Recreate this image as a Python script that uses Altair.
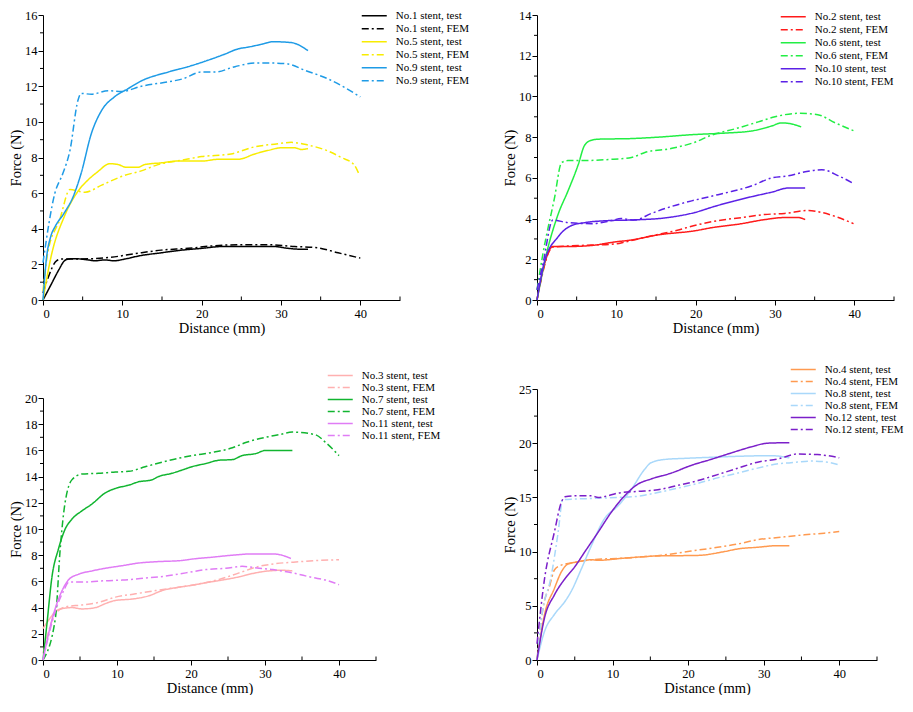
import altair as alt
import pandas as pd

FONT = "Liberation Serif"

# ---------------- Panel 1 ----------------
p1_names = ["No.1 stent, test", "No.1 stent, FEM", "No.5 stent, test",
            "No.5 stent, FEM", "No.9 stent, test", "No.9 stent, FEM"]
p1_colors = ["#000000", "#000000", "#F8EC00", "#F8EC00", "#1E9BE6", "#1E9BE6"]

no1_test_x = [0, 1.0, 2.0, 2.7, 3.2, 4.0, 5.7, 6.5, 7.8, 9.0, 10.3, 12.4, 14.9, 17.5, 20, 22.5, 25, 29.2, 30.9, 32.6, 33.4]
no1_test_y = [0, 0.85, 1.7, 2.2, 2.3, 2.32, 2.25, 2.2, 2.25, 2.2, 2.3, 2.5, 2.65, 2.8, 2.9, 3.0, 3.0, 3.0, 2.9, 2.85, 2.85]
no1_fem_x = [0, 0.6, 1.7, 2.3, 4.4, 8.6, 11.6, 14.9, 18.3, 21.7, 25, 28.4, 31.7, 34.3, 37.2, 40]
no1_fem_y = [0.4, 1.2, 2.2, 2.3, 2.3, 2.4, 2.6, 2.8, 2.9, 3.05, 3.1, 3.1, 3.0, 2.95, 2.65, 2.35]
no5_test_x = [0, 1.05, 2.7, 4.4, 5.7, 6.9, 8.4, 9.5, 10.5, 12.0, 12.8, 14.9, 17.0, 20.0, 22.1, 24.6, 26.7, 28.4, 30.1, 31.7, 32.6, 33.4]
no5_test_y = [0, 2.5, 4.7, 6.1, 6.75, 7.2, 7.65, 7.6, 7.45, 7.45, 7.6, 7.7, 7.8, 7.8, 7.9, 7.9, 8.2, 8.4, 8.55, 8.55, 8.45, 8.5]
no5_fem_x = [0, 0.6, 2.1, 3.4, 5.3, 7.4, 10.3, 12.4, 14.5, 17.5, 20, 23.7, 26.7, 29.2, 31.3, 33.4, 36, 37.6, 39.2, 39.8]
no5_fem_y = [0.5, 2.65, 4.5, 6.2, 6.05, 6.45, 7.0, 7.25, 7.6, 7.85, 8.05, 8.2, 8.6, 8.75, 8.85, 8.7, 8.35, 8.0, 7.6, 7.1]
no9_test_x = [0, 0.4, 1.0, 1.5, 2.7, 3.8, 4.8, 6.1, 7.4, 9.0, 10.7, 12.4, 15.8, 18.3, 20.4, 22.9, 24.6, 25.9, 27.5, 29.0, 31.3, 33.4]
no9_test_y = [0, 2.2, 3.6, 4.1, 4.9, 5.8, 7.1, 9.35, 10.65, 11.4, 11.86, 12.3, 12.8, 13.1, 13.4, 13.8, 14.1, 14.2, 14.35, 14.5, 14.45, 14.0]
no9_fem_x = [0, 1.5, 2.5, 3.4, 4.4, 4.8, 6.1, 8.2, 9.9, 12.4, 15.8, 17.5, 20.0, 21.7, 24.2, 26.7, 29.2, 30.9, 33.0, 36.0, 40.0]
no9_fem_y = [2.1, 6.0, 7.1, 8.4, 11.2, 11.6, 11.55, 11.75, 11.7, 12.0, 12.25, 12.4, 12.8, 12.8, 13.1, 13.3, 13.3, 13.25, 12.9, 12.4, 11.4]

# ---------------- Panel 2 ----------------
p2_names = ["No.2 stent, test", "No.2 stent, FEM", "No.6 stent, test",
            "No.6 stent, FEM", "No.10 stent, test", "No.10 stent, FEM"]
p2_colors = ["#FF1A1A", "#FF1A1A", "#22EE44", "#22EE44", "#5B21E6", "#5B21E6"]

no2_test_x = [0, 0.97, 2.0, 4.3, 6.9, 9.8, 11.9, 15.3, 19.9, 22.0, 25.8, 28.7, 31.2, 32.9, 33.8]
no2_test_y = [0, 1.8, 2.63, 2.63, 2.68, 2.85, 2.95, 3.2, 3.4, 3.55, 3.75, 3.95, 4.05, 4.05, 3.95]
no2_fem_x = [0, 2.0, 6.9, 9.8, 11.1, 14.4, 17.4, 20.3, 22.8, 25.8, 28.7, 31.2, 34.2, 35.9, 38.0, 39.9]
no2_fem_y = [0, 2.6, 2.7, 2.75, 2.85, 3.15, 3.4, 3.7, 3.9, 4.05, 4.2, 4.25, 4.4, 4.3, 4.05, 3.75]
no6_test_x = [0, 1.0, 2.65, 3.9, 5.2, 6.0, 6.85, 7.7, 11.9, 15.3, 19.5, 23.7, 27.0, 29.6, 30.8, 32.1, 33.3]
no6_test_y = [0, 1.95, 4.2, 5.35, 6.65, 7.6, 7.85, 7.9, 7.93, 8.0, 8.12, 8.2, 8.3, 8.55, 8.7, 8.65, 8.5]
no6_fem_x = [0, 0.76, 2.2, 3.1, 3.9, 6.0, 9.0, 11.9, 13.6, 17.0, 19.9, 22.0, 24.9, 27.9, 30.0, 32.9, 35.4, 37.6, 40.0]
no6_fem_y = [0.5, 2.3, 5.0, 6.75, 6.85, 6.85, 6.9, 7.0, 7.25, 7.45, 7.75, 8.1, 8.4, 8.75, 9.0, 9.17, 9.1, 8.7, 8.3]
no10_test_x = [0, 1.0, 2.65, 4.3, 6.0, 9.0, 11.9, 16.5, 19.9, 22.4, 24.9, 27.0, 29.6, 31.7, 33.8]
no10_test_y = [0, 1.95, 3.1, 3.65, 3.8, 3.9, 3.93, 4.05, 4.3, 4.6, 4.87, 5.07, 5.3, 5.5, 5.5]
no10_fem_x = [0, 0.76, 2.0, 3.9, 6.9, 9.4, 10.6, 12.3, 14.4, 17.0, 19.5, 22.0, 24.5, 27.0, 29.6, 31.7, 33.8, 35.9, 38.0, 40.0]
no10_fem_y = [0.5, 1.8, 3.93, 3.8, 3.75, 3.9, 4.0, 3.93, 4.25, 4.6, 4.87, 5.1, 5.33, 5.6, 6.0, 6.1, 6.3, 6.4, 6.1, 5.7]

# ---------------- Panel 3 ----------------
p3_names = ["No.3 stent, test", "No.3 stent, FEM", "No.7 stent, test",
            "No.7 stent, FEM", "No.11 stent, test", "No.11 stent, FEM"]
p3_colors = ["#FFB0B0", "#FFB0B0", "#11B530", "#11B530", "#E07CF5", "#E07CF5"]

no3_test_x = [0, 0.77, 2.1, 3.9, 5.3, 7.1, 8.4, 9.8, 12.0, 14.3, 16.1, 18.3, 20.1, 22.0, 24.2, 26.5, 28.3, 30.5, 32.3, 33.7]
no3_test_y = [2.4, 3.05, 3.85, 4.0, 3.9, 4.0, 4.3, 4.55, 4.65, 4.9, 5.3, 5.55, 5.7, 5.9, 6.1, 6.35, 6.6, 6.8, 6.85, 6.8]
no3_fem_x = [0, 1.7, 3.0, 5.3, 7.5, 9.8, 12.5, 15.2, 18.3, 21.0, 23.8, 26.5, 29.2, 31.4, 34.6, 37.3, 40.0]
no3_fem_y = [0.5, 3.55, 4.05, 4.2, 4.4, 4.8, 5.05, 5.3, 5.55, 5.8, 6.15, 6.65, 7.15, 7.35, 7.5, 7.6, 7.65]
no7_test_x = [0, 0.54, 1.2, 2.1, 3.0, 3.9, 5.3, 6.6, 8.4, 9.8, 11.6, 12.9, 14.7, 15.6, 17.4, 18.8, 20.1, 22.0, 23.8, 25.6, 26.9, 28.7, 30.1, 31.9, 33.7]
no7_test_y = [0, 2.8, 6.3, 8.5, 10.0, 10.75, 11.4, 11.9, 12.75, 13.1, 13.35, 13.6, 13.75, 14.0, 14.25, 14.5, 14.75, 15.0, 15.25, 15.3, 15.6, 15.75, 16.0, 16.0, 16.0]
no7_fem_x = [0, 1.7, 2.3, 2.8, 3.9, 5.3, 7.5, 9.8, 11.6, 13.8, 16.1, 18.3, 20.1, 22.9, 25.6, 27.4, 30.1, 31.9, 33.7, 36.8, 38.2, 40.0]
no7_fem_y = [0, 3.3, 8.3, 11.25, 13.75, 14.2, 14.25, 14.35, 14.4, 14.75, 15.1, 15.4, 15.6, 15.85, 16.2, 16.6, 17.0, 17.2, 17.4, 17.2, 16.6, 15.6]
no11_test_x = [0, 1.2, 2.8, 3.5, 4.8, 6.6, 8.4, 10.7, 12.9, 15.2, 18.8, 20.1, 22.9, 25.6, 28.3, 31.0, 32.3, 33.5]
no11_test_y = [0, 3.05, 5.55, 6.15, 6.55, 6.8, 7.0, 7.2, 7.4, 7.5, 7.6, 7.7, 7.85, 8.0, 8.1, 8.1, 8.0, 7.75]
no11_fem_x = [0, 1.7, 2.8, 3.5, 5.7, 8.4, 10.7, 13.8, 16.5, 19.3, 22.0, 24.7, 26.9, 29.2, 31.0, 33.7, 36.4, 38.2, 40.0]
no11_fem_y = [0, 3.8, 5.3, 5.95, 5.95, 6.05, 6.1, 6.25, 6.4, 6.65, 6.9, 7.0, 7.15, 7.0, 6.9, 6.65, 6.3, 6.1, 5.75]

# ---------------- Panel 4 ----------------
p4_names = ["No.4 stent, test", "No.4 stent, FEM", "No.8 stent, test",
            "No.8 stent, FEM", "No.12 stent, test", "No.12 stent, FEM"]
p4_colors = ["#FF9A50", "#FF9A50", "#A9D8FA", "#A9D8FA", "#7B1FC9", "#7B1FC9"]

no4_test_x = [0, 1.0, 2.3, 3.2, 4.1, 5.4, 7.2, 8.1, 11.6, 16.0, 21.3, 24.8, 26.6, 29.2, 31.9, 33.4]
no4_test_y = [0, 4.2, 6.6, 8.1, 8.85, 9.05, 9.25, 9.2, 9.4, 9.6, 9.65, 10.0, 10.25, 10.4, 10.55, 10.55]
no4_fem_x = [0, 0.8, 1.7, 2.3, 3.2, 4.5, 7.2, 11.6, 16.9, 20.4, 23.9, 26.6, 29.2, 31.9, 35.4, 38.0, 40.0]
no4_fem_y = [0, 4.8, 6.9, 8.3, 8.75, 8.95, 9.25, 9.4, 9.7, 10.05, 10.4, 10.7, 11.1, 11.3, 11.55, 11.7, 11.85]
no8_test_x = [0, 1.0, 2.3, 3.7, 4.5, 5.9, 7.2, 8.9, 10.7, 12.5, 14.2, 15.1, 16.9, 19.5, 23.0, 27.0, 31.0, 33.4]
no8_test_y = [0, 2.65, 4.2, 5.4, 6.3, 8.45, 10.55, 13.0, 14.2, 15.75, 17.55, 18.2, 18.5, 18.6, 18.7, 18.8, 18.85, 18.65]
no8_fem_x = [0, 0.6, 1.9, 2.8, 3.4, 5.0, 7.2, 10.7, 13.3, 16.0, 18.6, 21.3, 23.9, 26.6, 29.2, 31.9, 33.6, 36.3, 38.5, 40.0]
no8_fem_y = [0, 3.9, 7.8, 11.8, 14.8, 14.85, 14.9, 15.0, 15.1, 15.45, 15.85, 16.3, 16.8, 17.25, 17.7, 18.1, 18.2, 18.35, 18.25, 18.0]
no12_test_x = [0, 1.0, 2.3, 3.7, 5.0, 6.3, 8.1, 9.8, 11.6, 13.3, 15.1, 17.8, 20.4, 23.0, 25.7, 28.3, 30.5, 33.4]
no12_test_y = [0, 3.9, 6.0, 7.5, 8.6, 9.95, 11.8, 13.6, 15.15, 16.2, 16.7, 17.25, 17.95, 18.5, 19.1, 19.65, 20.0, 20.05]
no12_fem_x = [0, 1.0, 2.3, 3.2, 3.7, 5.4, 7.2, 8.1, 9.4, 10.7, 13.3, 16.0, 18.6, 21.3, 23.9, 26.6, 29.2, 31.9, 34.5, 37.1, 38.5, 40.0]
no12_fem_y = [1.5, 7.5, 11.8, 14.5, 15.05, 15.15, 15.15, 15.0, 15.15, 15.4, 15.55, 15.7, 16.1, 16.55, 17.1, 17.7, 18.25, 18.55, 19.0, 18.95, 18.85, 18.65]

# ---------------- tick values ----------------
x_major = [0, 10, 20, 30, 40]
x_minor = [5, 15, 25, 35, 45]
p1_y_major = [0, 2, 4, 6, 8, 10, 12, 14, 16]
p1_y_minor = [1, 3, 5, 7, 9, 11, 13, 15]
p2_y_major = [0, 2, 4, 6, 8, 10, 12, 14]
p2_y_minor = [1, 3, 5, 7, 9, 11, 13]
p3_y_major = [0, 2, 4, 6, 8, 10, 12, 14, 16, 18, 20]
p3_y_minor = [1, 3, 5, 7, 9, 11, 13, 15, 17, 19]
p4_y_major = [0, 5, 10, 15, 20, 25]
p4_y_minor = [2.5, 7.5, 12.5, 17.5, 22.5]

DASHES = [[1, 0], [7, 3, 2, 3], [1, 0], [7, 3, 2, 3], [1, 0], [7, 3, 2, 3]]
SYM = 12.5           # legend symbol box (px); the drawn stroke is twice as long
SYM_PATH = "M-2,0H2"


def make_df(names, xs, ys):
    rows = []
    for n, xl, yl in zip(names, xs, ys):
        for i, (a, b) in enumerate(zip(xl, yl)):
            rows.append({"series": n, "x": a, "y": b, "i": i})
    return pd.DataFrame(rows)


def panel(df, names, colors, ymax, ymajor, yminor, w, h, leg_x, leg_center_y, row_pad, y_range=None):
    xs = alt.Scale(domain=[0, 45], nice=False, zero=False)
    if y_range is None:
        ys = alt.Scale(domain=[0, ymax], nice=False, zero=False)
        y_bottom = h
    else:
        ys = alt.Scale(domain=[0, ymax], nice=False, zero=False, range=y_range)
        y_bottom = y_range[0]
    x_axis = alt.Axis(values=x_major, title="Distance (mm)", tickSize=5,
                      labelPadding=2, titlePadding=2, format="d", labelOverlap=False)
    y_axis = alt.Axis(values=ymajor, title="Force (N)", tickSize=5,
                      labelPadding=1, titlePadding=1, format="d", labelOverlap=False)
    legend = alt.Legend(
        title=None, orient="none", legendX=leg_x - 1, legendY=leg_center_y - SYM / 2,
        symbolSize=SYM * SYM, symbolStrokeWidth=1.5, symbolType=SYM_PATH,
        symbolOffset=SYM / 2,
        labelFont=FONT, labelFontSize=11, labelColor="black", labelOffset=SYM + 2,
        labelLimit=0, rowPadding=row_pad, padding=0,
    )
    lines = alt.Chart(df).mark_line(strokeWidth=1.5, interpolate="monotone").encode(
        x=alt.X("x:Q", scale=xs, axis=x_axis),
        y=alt.Y("y:Q", scale=ys, axis=y_axis),
        color=alt.Color("series:N", scale=alt.Scale(domain=names, range=colors), legend=legend),
        strokeDash=alt.StrokeDash("series:N", scale=alt.Scale(domain=names, range=DASHES), legend=legend),
        order="i:Q",
    )
    # minor ticks: x ticks point up into the plot, y ticks point left
    xminor_df = pd.DataFrame({"x": x_minor})
    yminor_df = pd.DataFrame({"y": yminor})
    xmin = alt.Chart(xminor_df).mark_rule(color="black", strokeWidth=1).encode(
        x=alt.X("x:Q", scale=xs, axis=x_axis), y=alt.value(y_bottom), y2=alt.value(y_bottom - 3.5))
    ymin = alt.Chart(yminor_df).mark_rule(color="black", strokeWidth=1).encode(
        y=alt.Y("y:Q", scale=ys, axis=y_axis), x=alt.value(-3), x2=alt.value(0))
    return alt.layer(lines, xmin, ymin).properties(width=w, height=h)


df1 = make_df(p1_names, [no1_test_x, no1_fem_x, no5_test_x, no5_fem_x, no9_test_x, no9_fem_x],
              [no1_test_y, no1_fem_y, no5_test_y, no5_fem_y, no9_test_y, no9_fem_y])
df2 = make_df(p2_names, [no2_test_x, no2_fem_x, no6_test_x, no6_fem_x, no10_test_x, no10_fem_x],
              [no2_test_y, no2_fem_y, no6_test_y, no6_fem_y, no10_test_y, no10_fem_y])
df3 = make_df(p3_names, [no3_test_x, no3_fem_x, no7_test_x, no7_fem_x, no11_test_x, no11_fem_x],
              [no3_test_y, no3_fem_y, no7_test_y, no7_fem_y, no11_test_y, no11_fem_y])
df4 = make_df(p4_names, [no4_test_x, no4_fem_x, no8_test_x, no8_fem_x, no12_test_x, no12_fem_x],
              [no4_test_y, no4_fem_y, no8_test_y, no8_fem_y, no12_test_y, no12_fem_y])

c1 = panel(df1, p1_names, p1_colors, 16, p1_y_major, p1_y_minor, 357, 285, 319, 0, 1)
c2 = panel(df2, p2_names, p2_colors, 14, p2_y_major, p2_y_minor, 357, 285, 244, 1, 1)
c3 = panel(df3, p3_names, p3_colors, 20, p3_y_major, p3_y_minor, 333, 271, 285, -14.2, 0,
           y_range=[271, 9])
c4 = panel(df4, p4_names, p4_colors, 25, p4_y_major, p4_y_minor, 340, 271, 254, -20.2, 0)

chart = alt.concat(
    c1, c2, c3, c4, columns=2, spacing={"row": 89, "column": 137}, bounds="flush"
).resolve_scale(
    color="independent", strokeDash="independent"
).configure_view(
    stroke=None
).configure_axis(
    grid=False, domainColor="black", domainWidth=1, tickColor="black", tickWidth=1,
    labelColor="black", titleColor="black", labelFont=FONT, titleFont=FONT,
    labelFontSize=12.5, titleFontSize=14.5, titleFontWeight="normal",
).properties(padding=0)

chart.save("out.html", embed_options={"renderer": "svg", "actions": False})
